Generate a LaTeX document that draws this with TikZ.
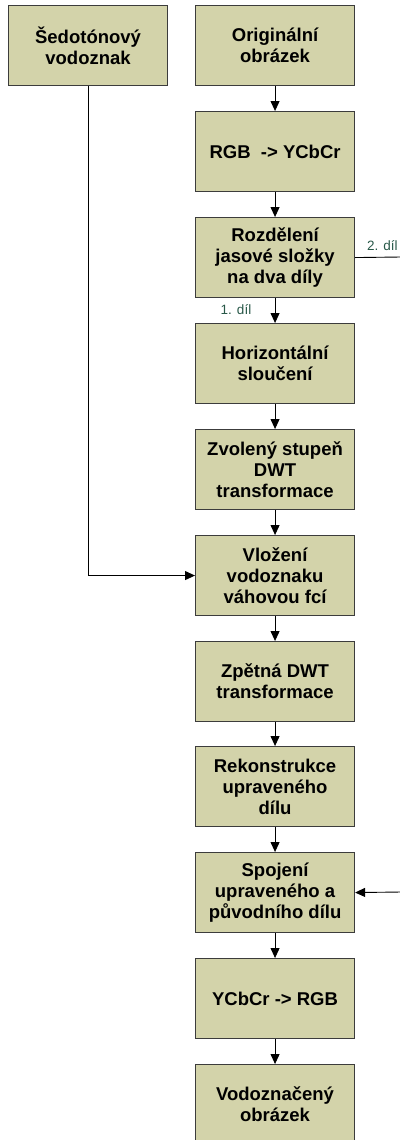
\documentclass[tikz,border=0pt]{standalone}
\usepackage{fontspec}
\setmainfont{Liberation Sans}
\usetikzlibrary{arrows.meta}
\definecolor{boxfill}{RGB}{211,211,170}
\definecolor{boxline}{RGB}{60,60,60}
\definecolor{lbl}{RGB}{40,88,72}
\begin{document}
\begin{tikzpicture}[x=1pt,y=-1pt,
  stepbox/.style={draw=boxline, fill=boxfill, line width=1.1pt,
    minimum width=159pt, minimum height=80pt, anchor=north west,
    align=center, inner sep=2pt,
    font=\fontsize{18.5}{21}\selectfont\bfseries},
  arr/.style={line width=0.9pt, -{Triangle[length=10pt,width=9pt]}},
  ln/.style={line width=0.9pt},
  lab/.style={text=lbl, font=\fontsize{13.5}{15}\selectfont, inner sep=0pt}]
\useasboundingbox (0,0) rectangle (399,1140);

% left source box
\node[stepbox] (wm) at (8,5) {Šedotónový\\vodoznak};

% main processing column
\node[stepbox] (b1)  at (195,5)    {Originální\\obrázek};
\node[stepbox] (b2)  at (195,111)  {RGB\ \ -> YCbCr};
\node[stepbox] (b3)  at (195,217)  {Rozdělení\\jasové složky\\na dva díly};
\node[stepbox] (b4)  at (195,323)  {Horizontální\\sloučení};
\node[stepbox] (b5)  at (195,429)  {Zvolený stupeň\\DWT\\transformace};
\node[stepbox] (b6)  at (195,535)  {Vložení\\vodoznaku\\váhovou fcí};
\node[stepbox] (b7)  at (195,641)  {Zpětná DWT\\transformace};
\node[stepbox] (b8)  at (195,746)  {Rekonstrukce\\upraveného\\dílu};
\node[stepbox] (b9)  at (195,852)  {Spojení\\upraveného a\\původního dílu};
\node[stepbox] (b10) at (195,958)  {YCbCr -> RGB};
\node[stepbox] (b11) at (195,1064) {Vodoznačený\\obrázek};

% chain of arrows
\foreach \a/\b in {b1/b2,b2/b3,b3/b4,b4/b5,b5/b6,b6/b7,b7/b8,b8/b9,b9/b10,b10/b11}
  \draw[arr] (\a.south) -- (\b.north);

% watermark feed
\draw[arr] (wm.south) |- (b6.west);

% second part leaves to the right and comes back
\coordinate (out2) at (401,257);
\coordinate (in2)  at (401,892);
\draw[ln] (b3.east) -- (out2);
\draw[arr] (in2) -- (b9.east);

% part labels
\node[lab, anchor=west] (l2) at (367,246) {2. díl};
\node[lab] (l1) at (236,310) {1. díl};
\end{tikzpicture}
\end{document}
